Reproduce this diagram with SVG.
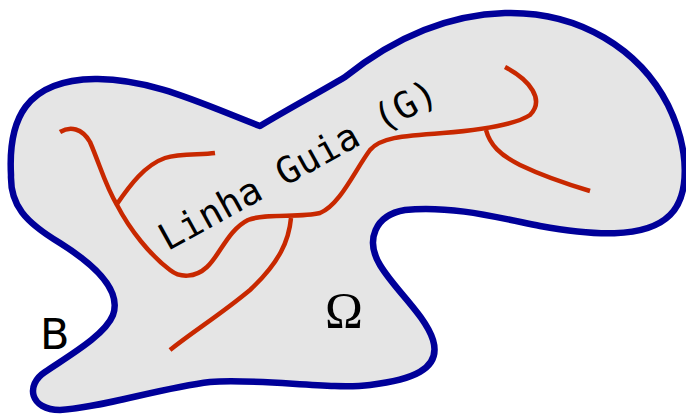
<svg xmlns="http://www.w3.org/2000/svg" width="686" height="415" viewBox="0 0 686 415">
<style>
.region{fill:#e5e5e5;stroke:#000099;stroke-width:6.5;stroke-linejoin:round}
.guide{fill:none;stroke:#c82800;stroke-width:4.5;stroke-linecap:butt;stroke-linejoin:round}
.mono{font-family:"DejaVu Sans Mono","Liberation Mono",monospace;font-size:37px;fill:#000}
.sans{font-family:"DejaVu Sans","Liberation Sans",sans-serif;font-size:43px;fill:#000}
.serif{font-family:"Liberation Serif","DejaVu Serif",serif;font-size:51px;fill:#000}
</style>
<rect width="686" height="415" fill="#fff"/>
<g id="region">
<path class="region" d="M 260 126 C 290 108, 320 92, 345 77 C 385 45, 440 15, 505 13 C 580 11, 640 50, 668 105 C 690 150, 690 195, 670 215 C 645 240, 590 235, 540 226 C 500 218, 450 205, 405 210 C 375 215, 365 240, 380 265 C 395 290, 425 315, 433 340 C 442 370, 410 380, 370 385 C 330 390, 260 378, 210 382 C 160 388, 100 408, 60 410 C 30 410, 25 385, 45 372 C 70 355, 105 335, 113 315 C 122 290, 95 265, 60 243 C 25 222, 10 205, 11 175 C 8 120, 25 80, 95 79 C 150 78, 205 105, 260 126 Z"/>
</g>
<g id="connectors">
<path class="guide" d="M 60 132 C 70 126, 82 128, 90 142 C 100 165, 105 185, 117 205 C 130 230, 150 255, 170 270 C 180 278, 195 278, 207 267 C 220 255, 228 230, 248 220 C 265 213, 300 218, 320 213 C 340 205, 355 170, 370 150 C 380 138, 400 136, 443 133 C 480 130, 515 125, 530 115 C 545 100, 530 80, 505 67"/>
<path class="guide" d="M 117 204 C 130 185, 145 165, 165 158 C 180 153, 200 155, 215 153"/>
<path class="guide" d="M 291 218 C 289 240, 280 262, 250 290 C 220 315, 195 330, 170 350"/>
<path class="guide" d="M 486 130 C 490 145, 500 155, 520 165 C 545 177, 570 185, 590 191"/>
</g>
<g id="label-guide">
<text class="mono" text-anchor="middle" transform="translate(304,176) rotate(-29)">Linha Guia (G)</text>
</g>
<g id="label-B">
<text class="sans" x="40" y="349">B</text>
</g>
<g id="label-omega">
<text class="serif" x="344" y="327" text-anchor="middle">Ω</text>
</g>
</svg>
